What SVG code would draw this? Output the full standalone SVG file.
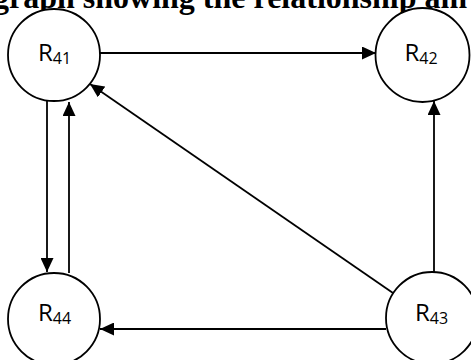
<svg xmlns="http://www.w3.org/2000/svg" width="471" height="360" viewBox="0 0 471 360">
  <style>
    .node { fill: #ffffff; stroke: #000000; stroke-width: 1.8; }
    .lbl { font-family: "Open Sans", "Liberation Sans", sans-serif; font-size: 24px; fill: #000000; }
    .sub { font-size: 16px; }
    .edge { stroke: #000000; stroke-width: 1.8; fill: none; marker-end: url(#arrow); }
    .title { font-family: "Liberation Serif", "Times New Roman", serif; font-weight: bold; font-size: 32px; fill: #000000; }
  </style>
  <defs>
    <marker id="arrow" markerUnits="userSpaceOnUse" markerWidth="14" markerHeight="13" refX="14" refY="6.5" orient="auto">
      <path d="M0,0 L14,6.5 L0,13 z" fill="#000000"/>
    </marker>
  </defs>

  <!-- heading line, cropped by the top edge -->
  <text class="title" x="-7" y="8">graph showing the relationship am</text>

  <!-- connectors -->
  <g id="edges">
    <line class="edge" x1="100" y1="53" x2="376" y2="53"/>
    <line class="edge" x1="47" y1="100" x2="47" y2="272"/>
    <line class="edge" x1="69" y1="273" x2="69" y2="102"/>
    <line class="edge" x1="393" y1="293" x2="90" y2="84"/>
    <line class="edge" x1="434" y1="272" x2="434" y2="101"/>
    <line class="edge" x1="386" y1="329" x2="100" y2="329"/>
  </g>

  <g id="R41">
    <circle class="node" cx="54" cy="55" r="46"/>
    <text class="lbl" x="54.5" y="61" text-anchor="middle">R<tspan class="sub" dy="3">41</tspan></text>
  </g>
  <g id="R42">
    <circle class="node" cx="422.5" cy="55" r="47"/>
    <text class="lbl" x="421" y="61" text-anchor="middle">R<tspan class="sub" dy="3">42</tspan></text>
  </g>
  <g id="R43">
    <circle class="node" cx="432" cy="318" r="46"/>
    <text class="lbl" x="431.5" y="321" text-anchor="middle">R<tspan class="sub" dy="3">43</tspan></text>
  </g>
  <g id="R44">
    <circle class="node" cx="54" cy="319" r="46"/>
    <text class="lbl" x="54.5" y="321" text-anchor="middle">R<tspan class="sub" dy="3">44</tspan></text>
  </g>
</svg>
